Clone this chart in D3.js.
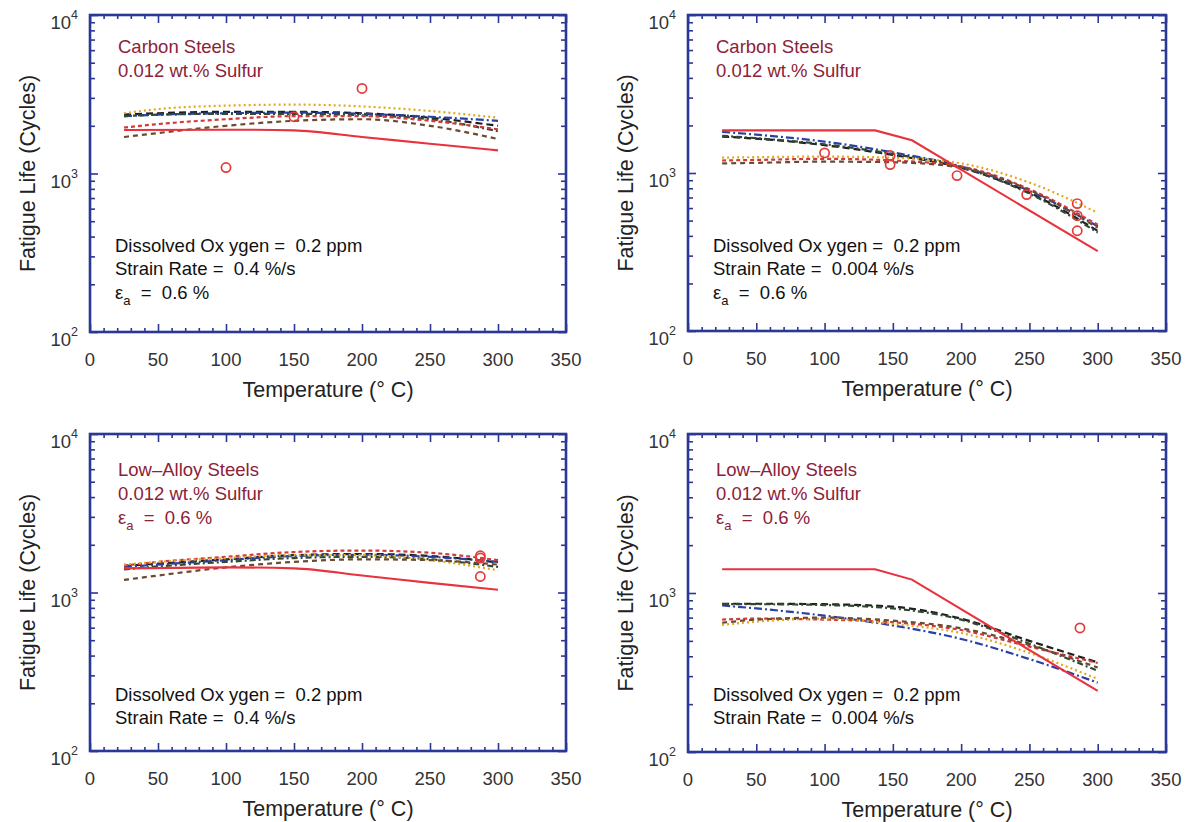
<!DOCTYPE html>
<html><head><meta charset="utf-8">
<script src="https://cdn.jsdelivr.net/npm/d3@7"></script>
<style>
html,body{margin:0;padding:0;background:#fff;}
svg{display:block;font-family:"Liberation Sans",Arial,sans-serif;}
text{white-space:pre;}
</style></head>
<body><svg id="c" width="1194" height="822"></svg>
<script>
// ---------- data ----------
const temps = [25, 50, 100, 150, 200, 250, 300];
const xTicks = [0, 50, 100, 150, 200, 250, 300, 350];
const yTickExps = [2, 3, 4];

// Panel 1: Carbon steel, 0.4 %/s
const p1_A = [2350, 2400, 2450, 2450, 2400, 2250, 2000];
const p1_B = [2300, 2350, 2400, 2420, 2380, 2280, 2150];
const p1_C = [2300, 2350, 2380, 2380, 2330, 2200, 1850];
const p1_D = [1950, 2050, 2200, 2300, 2300, 2150, 1900];
const p1_E = [2400, 2550, 2680, 2720, 2650, 2480, 2250];
const p1_F = [1700, 1800, 2000, 2150, 2200, 2000, 1650];
const p1_redT = [25, 100, 150, 200, 250, 300];
const p1_redN = [1880, 1890, 1870, 1700, 1540, 1400];
const p1_expT = [100, 150, 200];
const p1_expN = [1090, 2280, 3440];

// Panel 2: Carbon steel, 0.004 %/s
const p2_A = [1700, 1650, 1500, 1300, 1080, 750, 430];
const p2_B = [1820, 1750, 1580, 1350, 1100, 770, 460];
const p2_C = [1720, 1660, 1520, 1320, 1090, 740, 420];
const p2_D = [1200, 1210, 1230, 1200, 1100, 790, 470];
const p2_E = [1250, 1260, 1270, 1250, 1150, 870, 560];
const p2_F = [1150, 1160, 1180, 1170, 1080, 780, 450];
const p2_redT = [25, 137, 164, 300];
const p2_redN = [1860, 1860, 1610, 320];
const p2_expT = [100, 148, 148, 197, 248, 285, 285, 285];
const p2_expN = [1340, 1290, 1130, 963, 730, 640, 537, 431];

// Panel 3: Low-alloy steel, 0.4 %/s
const p3_A = [1470, 1520, 1620, 1720, 1750, 1700, 1550];
const p3_B = [1450, 1500, 1600, 1700, 1730, 1680, 1560];
const p3_C = [1400, 1460, 1560, 1650, 1680, 1620, 1450];
const p3_D = [1480, 1560, 1680, 1800, 1840, 1780, 1600];
const p3_E = [1500, 1560, 1650, 1720, 1720, 1600, 1380];
const p3_F = [1200, 1280, 1440, 1560, 1620, 1600, 1500];
const p3_redT = [25, 100, 150, 200, 250, 300];
const p3_redN = [1420, 1440, 1420, 1280, 1150, 1040];
const p3_expT = [287, 287, 287];
const p3_expN = [1706, 1650, 1262];

// Panel 4: Low-alloy steel, 0.004 %/s
const p4_A = [856, 856, 850, 820, 690, 500, 366];
const p4_B = [835, 800, 720, 625, 514, 384, 273];
const p4_C = [850, 850, 840, 800, 680, 480, 324];
const p4_D = [680, 690, 680, 655, 585, 460, 363];
const p4_E = [630, 660, 690, 640, 560, 420, 288];
const p4_F = [650, 680, 700, 670, 600, 470, 340];
const p4_redT = [25, 137, 164, 300];
const p4_redN = [1410, 1410, 1214, 242];
const p4_expT = [287];
const p4_expN = [603];

const seriesStyles = {
  A: {color: "#1e1e1e", dash: "7,4"},
  B: {color: "#2a3fa8", dash: "8,3,2,3"},
  C: {color: "#2f4a30", dash: "6,3,2,3"},
  D: {color: "#d23a3a", dash: "4,3"},
  E: {color: "#e2a81e", dash: "2,3"},
  F: {color: "#6a4a30", dash: "5,4"}
};

const panels = [
  {x0: 90, x1: 566, y0: 15, y1: 332, curves: {A: p1_A, B: p1_B, C: p1_C, D: p1_D, E: p1_E, F: p1_F},
   redT: p1_redT, redN: p1_redN, redCurve: d3.curveMonotoneX, expT: p1_expT, expN: p1_expN,
   title: ["Carbon Steels", "0.012 wt.% Sulfur"], titleEps: false,
   bottom: ["Dissolved Ox ygen =  0.2 ppm", "Strain Rate =  0.4 %/s"], bottomEps: true},
  {x0: 688, x1: 1166, y0: 15, y1: 331, curves: {A: p2_A, B: p2_B, C: p2_C, D: p2_D, E: p2_E, F: p2_F},
   redT: p2_redT, redN: p2_redN, redCurve: d3.curveLinear, expT: p2_expT, expN: p2_expN,
   title: ["Carbon Steels", "0.012 wt.% Sulfur"], titleEps: false,
   bottom: ["Dissolved Ox ygen =  0.2 ppm", "Strain Rate =  0.004 %/s"], bottomEps: true},
  {x0: 90, x1: 566, y0: 434, y1: 751, curves: {A: p3_A, B: p3_B, C: p3_C, D: p3_D, E: p3_E, F: p3_F},
   redT: p3_redT, redN: p3_redN, redCurve: d3.curveMonotoneX, expT: p3_expT, expN: p3_expN,
   title: ["Low\u2013Alloy Steels", "0.012 wt.% Sulfur"], titleEps: true,
   bottom: ["Dissolved Ox ygen =  0.2 ppm", "Strain Rate =  0.4 %/s"], bottomEps: false},
  {x0: 688, x1: 1166, y0: 434, y1: 752, curves: {A: p4_A, B: p4_B, C: p4_C, D: p4_D, E: p4_E, F: p4_F},
   redT: p4_redT, redN: p4_redN, redCurve: d3.curveLinear, expT: p4_expT, expN: p4_expN,
   title: ["Low\u2013Alloy Steels", "0.012 wt.% Sulfur"], titleEps: true,
   bottom: ["Dissolved Ox ygen =  0.2 ppm", "Strain Rate =  0.004 %/s"], bottomEps: false}
];

const svg = d3.select("#c");
const axisColor = "#2b3794";
const titleColor = "#8c2238";
const annSize = 18.5;

function epsText(g, x, y, color) {
  const t = g.append("text").attr("x", x).attr("y", y).attr("font-size", annSize).attr("fill", color);
  t.append("tspan").text("\u03b5");
  t.append("tspan").attr("font-size", 13).attr("dy", 6).text("a");
  t.append("tspan").attr("dy", -6).text("  =  0.6 %");
}

panels.forEach(p => {
  const x = d3.scaleLinear().domain([0, 350]).range([p.x0, p.x1]);
  const y = d3.scaleLog().domain([100, 10000]).range([p.y1, p.y0]);
  const g = svg.append("g");

  const cid = "clip" + p.x0 + "_" + p.y0;
  svg.append("clipPath").attr("id", cid).append("rect")
    .attr("x", p.x0).attr("y", p.y0).attr("width", p.x1 - p.x0).attr("height", p.y1 - p.y0);
  const plot = g.append("g").attr("clip-path", `url(#${cid})`);

  // model curves
  const line = d3.line().x(d => x(d[0])).y(d => y(d[1])).curve(d3.curveMonotoneX);
  Object.keys(p.curves).forEach(k => {
    const st = seriesStyles[k];
    plot.append("path").datum(temps.map((t, i) => [t, p.curves[k][i]]))
      .attr("d", line).attr("fill", "none").attr("stroke", st.color)
      .attr("stroke-width", 2.2).attr("stroke-dasharray", st.dash);
  });
  // red solid curve
  const rline = d3.line().x(d => x(d[0])).y(d => y(d[1])).curve(p.redCurve);
  plot.append("path").datum(p.redT.map((t, i) => [t, p.redN[i]]))
    .attr("d", rline).attr("fill", "none").attr("stroke", "#e8323c").attr("stroke-width", 2.1);
  // experimental points
  plot.selectAll("circle.exp").data(p.expT.map((t, i) => [t, p.expN[i]])).enter()
    .append("circle").attr("cx", d => x(d[0])).attr("cy", d => y(d[1])).attr("r", 4.6)
    .attr("fill", "none").attr("stroke", "#e53a3a").attr("stroke-width", 1.7);

  // axes (ticks inward on all sides)
  const minorX = d3.range(0, 351, 10).filter(v => v % 50 !== 0);
  const minorY = [];
  [100, 1000].forEach(b => { for (let m = 2; m <= 9; m++) minorY.push(b * m); });
  const majorY = yTickExps.map(e => Math.pow(10, e));

  const ax = g.append("g").attr("stroke", axisColor);
  const defs = [
    [d3.axisBottom(x).tickValues(xTicks).tickSize(-8), `translate(0,${p.y1})`],
    [d3.axisBottom(x).tickValues(minorX).tickSize(-4), `translate(0,${p.y1})`],
    [d3.axisTop(x).tickValues(xTicks).tickSize(-8), `translate(0,${p.y0})`],
    [d3.axisTop(x).tickValues(minorX).tickSize(-4), `translate(0,${p.y0})`],
    [d3.axisLeft(y).tickValues(majorY).tickSize(-8), `translate(${p.x0},0)`],
    [d3.axisLeft(y).tickValues(minorY).tickSize(-5), `translate(${p.x0},0)`],
    [d3.axisRight(y).tickValues(majorY).tickSize(-8), `translate(${p.x1},0)`],
    [d3.axisRight(y).tickValues(minorY).tickSize(-5), `translate(${p.x1},0)`]
  ];
  defs.forEach(([a, tr]) => {
    const ga = ax.append("g").attr("transform", tr).call(a.tickFormat(""));
    ga.select(".domain").remove();
    ga.selectAll("line").attr("stroke", axisColor).attr("stroke-width", 1.6);
  });
  g.append("rect").attr("x", p.x0).attr("y", p.y0).attr("width", p.x1 - p.x0).attr("height", p.y1 - p.y0)
    .attr("fill", "none").attr("stroke", axisColor).attr("stroke-width", 2.6);

  // tick labels
  xTicks.forEach(v => {
    g.append("text").attr("x", x(v)).attr("y", p.y1 + 34).attr("text-anchor", "middle")
      .attr("font-size", 18.5).attr("fill", "#333").text(v);
  });
  yTickExps.forEach(e => {
    const t = g.append("text").attr("x", p.x0 - 12).attr("y", y(Math.pow(10, e)) + 14)
      .attr("text-anchor", "end").attr("font-size", 18.5).attr("fill", "#333");
    t.append("tspan").text("10");
    t.append("tspan").attr("font-size", 12.5).attr("dy", -10).text(e);
  });

  // axis titles
  g.append("text").attr("x", (p.x0 + p.x1) / 2).attr("y", p.y1 + 65).attr("text-anchor", "middle")
    .attr("font-size", 21.5).attr("fill", "#222").text("Temperature (\u00b0 C)");
  const cy = (p.y0 + p.y1) / 2;
  g.append("text").attr("transform", `translate(${p.x0 - 55},${cy}) rotate(-90)`)
    .attr("text-anchor", "middle").attr("font-size", 21.5).attr("fill", "#222").text("Fatigue Life (Cycles)");

  // annotations
  const tx = p.x0 + 28;
  const ty = p.bottomEps ? p.y0 + 38 : p.y0 + 42;
  p.title.forEach((s, i) => {
    g.append("text").attr("x", tx).attr("y", ty + i * 24).attr("font-size", annSize)
      .attr("fill", titleColor).text(s);
  });
  if (p.titleEps) epsText(g, tx, ty + 2 * 24, titleColor);
  const bx = p.x0 + 25;
  const by = p.bottomEps ? p.y0 + 237 : p.y0 + 267;
  p.bottom.forEach((s, i) => {
    g.append("text").attr("x", bx).attr("y", by + i * 23).attr("font-size", annSize)
      .attr("fill", "#111").text(s);
  });
  if (p.bottomEps) epsText(g, bx, by + 2 * 23 + 1, "#111");
});
</script></body></html>
